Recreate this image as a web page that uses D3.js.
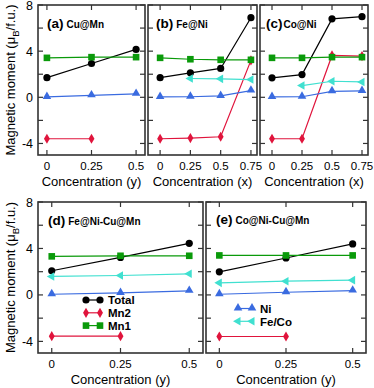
<!DOCTYPE html>
<html>
<head>
<meta charset="utf-8">
<script src="https://cdn.jsdelivr.net/npm/d3@7"></script>
<style>
  body { margin: 0; background: #fff; }
</style>
</head>
<body>
<div id="chart"></div>
<script>
// series names, in legend order
var seriesNames = ['Total', 'Mn2', 'Mn1', 'Ni', 'Fe/Co'];

var xTop3 = [0, 0.25, 0.5];
var xTop4 = [0, 0.25, 0.5, 0.75];

// (a) Cu@Mn
var aTotal = [1.70, 2.93, 4.15];
var aMn2 = [-3.59, -3.59];
var aMn1 = [3.42, 3.48, 3.48];
var aNi = [0.03, 0.17, 0.30];

// (b) Fe@Ni
var bTotal = [1.70, 2.12, 2.50, 6.90];
var bMn2 = [-3.59, -3.53, -3.42, 3.20];
var bMn1 = [3.42, 3.30, 3.25, 3.25];
var bNi = [0.03, 0.05, 0.12, 0.58];
var bFeCo = [null, 1.63, 1.60, 1.54];

// (c) Co@Ni
var cTotal = [1.69, 1.97, 6.80, 6.99];
var cMn2 = [-3.59, -3.59, 3.63, 3.57];
var cMn1 = [3.42, 3.42, 3.48, 3.48];
var cNi = [0.03, 0.05, 0.52, 0.55];
var cFeCo = [null, 1.02, 1.39, 1.33];

// (d) Fe@Ni-Cu@Mn
var dTotal = [2.08, 3.23, 4.44];
var dMn2 = [-3.55, -3.55];
var dMn1 = [3.32, 3.37, 3.37];
var dNi = [0.06, 0.17, 0.35];
var dFeCo = [1.59, 1.67, 1.82];

// (e) Co@Ni-Cu@Mn
var eTotal = [1.99, 3.18, 4.39];
var eMn2 = [-3.58, -3.58];
var eMn1 = [3.40, 3.40, 3.40];
var eNi = [0.06, 0.23, 0.37];
var eFeCo = [1.04, 1.18, 1.27];

var yTicks = [-4, 0, 4, 8];
var yMinor = [-4, -2, 0, 2, 4, 6, 8];

var colors = { 'Total': '#000000', 'Mn2': '#e0143c', 'Mn1': '#0a9a0a', 'Ni': '#3a6be0', 'Fe/Co': '#40e0d0' };
var FONT = '"Liberation Sans", Arial, "DejaVu Sans", sans-serif';

var panels = [
  { tag: '(a)', name: 'Cu@Mn', xs: xTop3, xdom: [-0.05, 0.55], xt: 'Concentration (y)',
    box: [38, 5, 145, 155], yLabels: true, lab: [47, 28],
    series: { 'Total': aTotal, 'Mn2': aMn2, 'Mn1': aMn1, 'Ni': aNi } },
  { tag: '(b)', name: 'Fe@Ni', xs: xTop4, xdom: [-0.1, 0.8], xt: 'Concentration (x)',
    box: [148, 5, 257, 155], yLabels: false, lab: [156, 28],
    series: { 'Total': bTotal, 'Mn2': bMn2, 'Mn1': bMn1, 'Ni': bNi, 'Fe/Co': bFeCo } },
  { tag: '(c)', name: 'Co@Ni', xs: xTop4, xdom: [-0.1, 0.8], xt: 'Concentration (x)',
    box: [260, 5, 368, 155], yLabels: false, lab: [266, 28], tight: true,
    series: { 'Total': cTotal, 'Mn2': cMn2, 'Mn1': cMn1, 'Ni': cNi, 'Fe/Co': cFeCo } },
  { tag: '(d)', name: 'Fe@Ni-Cu@Mn', xs: xTop3, xdom: [-0.05, 0.55], xt: 'Concentration (y)',
    box: [38, 202, 203, 353], yLabels: true, lab: [48, 225],
    legend: ['Total', 'Mn2', 'Mn1'], legPos: [86, 300],
    series: { 'Total': dTotal, 'Mn2': dMn2, 'Mn1': dMn1, 'Ni': dNi, 'Fe/Co': dFeCo } },
  { tag: '(e)', name: 'Co@Ni-Cu@Mn', xs: xTop3, xdom: [-0.05, 0.55], xt: 'Concentration (y)',
    box: [206, 202, 366, 353], yLabels: false, lab: [216, 224],
    legend: ['Ni', 'Fe/Co'], legPos: [238, 308.5],
    series: { 'Total': eTotal, 'Mn2': eMn2, 'Mn1': eMn1, 'Ni': eNi, 'Fe/Co': eFeCo } }
];

var svg = d3.select('#chart').append('svg').attr('width', 374).attr('height', 388)
  .attr('font-family', FONT);

function marker(g, name, x, y) {
  var c = colors[name];
  if (name === 'Total') {
    g.append('circle').attr('cx', x).attr('cy', y).attr('r', 3.6).attr('fill', c);
  } else if (name === 'Mn1') {
    g.append('rect').attr('x', x - 3.3).attr('y', y - 3.3).attr('width', 6.6).attr('height', 6.6).attr('fill', c);
  } else if (name === 'Mn2') {
    g.append('path').attr('d', d3.symbol(d3.symbolDiamond, 30)()).attr('transform', 'translate(' + x + ',' + y + ')').attr('fill', c);
  } else if (name === 'Ni') {
    g.append('path').attr('d', d3.symbol(d3.symbolTriangle, 32)()).attr('transform', 'translate(' + x + ',' + (y - 0.5) + ')').attr('fill', c);
  } else {
    g.append('path').attr('d', d3.symbol(d3.symbolTriangle, 32)()).attr('transform', 'translate(' + x + ',' + y + ') rotate(-90)').attr('fill', c);
  }
}

panels.forEach(function (p) {
  var x0 = p.box[0], y0 = p.box[1], x1 = p.box[2], y1 = p.box[3];
  var x = d3.scaleLinear().domain(p.xdom).range([x0, x1]);
  var y = d3.scaleLinear().domain([-5, 8]).range([y1, y0]);
  var g = svg.append('g');

  // series lines + markers
  seriesNames.forEach(function (name) {
    var vals = p.series[name];
    if (!vals) return;
    var pts = [];
    vals.forEach(function (v, i) { if (v !== null) pts.push([p.xs[i], v]); });
    var line = d3.line().x(function (d) { return x(d[0]); }).y(function (d) { return y(d[1]); });
    g.append('path').attr('d', line(pts)).attr('fill', 'none')
      .attr('stroke', colors[name]).attr('stroke-width', 1.2);
    pts.forEach(function (d) { marker(g, name, x(d[0]), y(d[1])); });
  });

  // frame
  g.append('rect').attr('x', x0).attr('y', y0).attr('width', x1 - x0).attr('height', y1 - y0)
    .attr('fill', 'none').attr('stroke', '#333').attr('stroke-width', 1.6);

  // inward ticks
  yMinor.forEach(function (v) {
    g.append('line').attr('x1', x0).attr('x2', x0 + 5).attr('y1', y(v)).attr('y2', y(v)).attr('stroke', '#333').attr('stroke-width', 1.2);
    g.append('line').attr('x1', x1).attr('x2', x1 - 5).attr('y1', y(v)).attr('y2', y(v)).attr('stroke', '#333').attr('stroke-width', 1.2);
  });
  p.xs.forEach(function (v) {
    g.append('line').attr('x1', x(v)).attr('x2', x(v)).attr('y1', y1).attr('y2', y1 - 5).attr('stroke', '#333').attr('stroke-width', 1.2);
    g.append('line').attr('x1', x(v)).attr('x2', x(v)).attr('y1', y0).attr('y2', y0 + 5).attr('stroke', '#333').attr('stroke-width', 1.2);
    g.append('text').attr('x', x(v)).attr('y', y1 + 15).attr('text-anchor', 'middle')
      .attr('font-size', 11.5).text(String(v));
  });
  if (p.yLabels) {
    yTicks.forEach(function (v) {
      g.append('text').attr('x', x0 - 5).attr('y', y(v) + 4.5).attr('text-anchor', 'end')
        .attr('font-size', 12.5).text(String(v));
    });
    var t = g.append('text').attr('transform', 'translate(' + (x0 - 23) + ',' + ((y0 + y1) / 2) + ') rotate(-90)')
      .attr('text-anchor', 'middle').attr('font-size', 13);
    t.append('tspan').text('Magnetic moment (\u03bc');
    t.append('tspan').attr('font-size', 9.5).attr('dy', 4).text('B');
    t.append('tspan').attr('dy', -4).text('/f.u.)');
  }
  g.append('text').attr('x', (x0 + x1) / 2).attr('y', y1 + 31).attr('text-anchor', 'middle')
    .attr('font-size', 13).text(p.xt);

  // panel label
  var lt = g.append('text').attr('x', p.lab[0]).attr('y', p.lab[1]).attr('font-weight', 'bold');
  lt.append('tspan').attr('font-size', 13.5).text(p.tag);
  lt.append('tspan').attr('font-size', 10).attr('dx', p.tight ? 1 : 3).text(p.name);

  // legend
  if (p.legend) {
    p.legend.forEach(function (name, i) {
      var ly = p.legPos[1] + i * 12.8, lx = p.legPos[0];
      g.append('line').attr('x1', lx).attr('x2', lx + 14).attr('y1', ly).attr('y2', ly)
        .attr('stroke', colors[name]).attr('stroke-width', 1.2);
      marker(g, name, lx, ly);
      marker(g, name, lx + 14, ly);
      g.append('text').attr('x', lx + 22).attr('y', ly + 4.2).attr('font-size', 11.5)
        .attr('font-weight', 'bold').text(name);
    });
  }
});
</script>
</body>
</html>
